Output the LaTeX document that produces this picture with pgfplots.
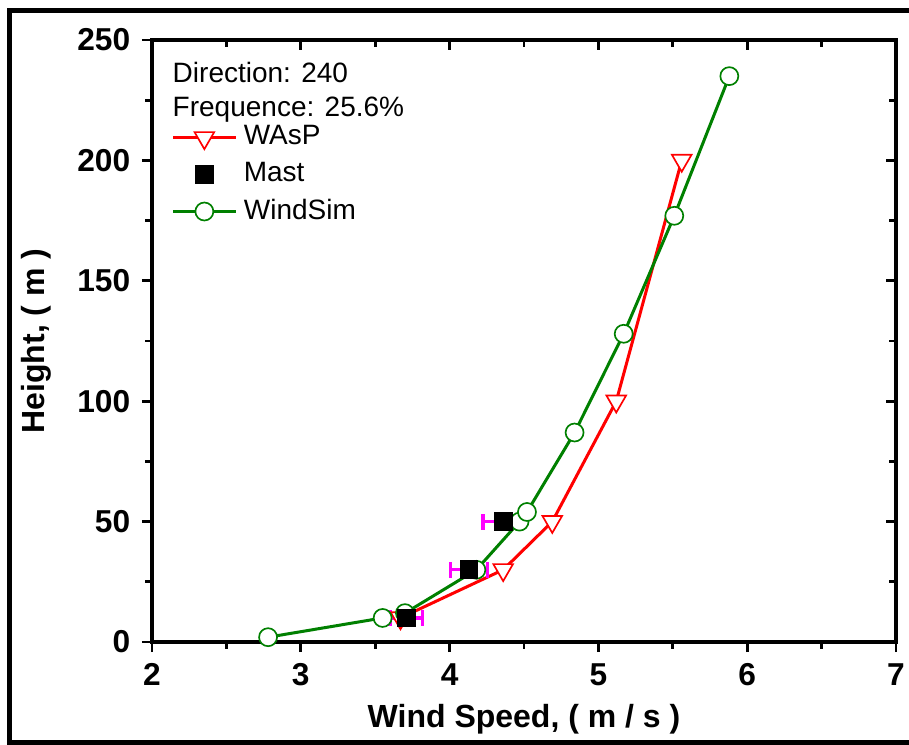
\documentclass[border=0pt]{standalone}
\usepackage{pgfplots}
\pgfplotsset{compat=1.18}
\usepackage{fontspec}
\setmainfont{Liberation Sans}
\definecolor{wgreen}{RGB}{0,128,0}
\definecolor{wred}{RGB}{255,0,0}
\definecolor{wmag}{RGB}{255,0,255}

\begin{document}
\begin{tikzpicture}
% mirrored inside ticks on top and right
\begin{axis}[
  scale only axis, width=223.2pt, height=180.6pt,
  xmin=2, xmax=7, ymin=0, ymax=250,
  xtick={2,...,7}, ytick={0,50,...,250},
  minor x tick num=1, minor y tick num=1,
  tick align=inside, xtick pos=top, ytick pos=right,
  xticklabels={}, yticklabels={},
  major tick length=3pt, minor tick length=2pt,
  axis line style={line width=1pt},
  every tick/.style={black, line width=0.8pt},
]
\end{axis}
\begin{axis}[
  scale only axis, width=223.2pt, height=180.6pt,
  xmin=2, xmax=7, ymin=0, ymax=250,
  xtick={2,...,7}, ytick={0,50,...,250},
  minor x tick num=1, minor y tick num=1,
  tick align=outside, xtick pos=bottom, ytick pos=left,
  major tick length=3pt, minor tick length=2pt,
  axis line style={line width=1pt},
  every tick/.style={black, line width=0.8pt},
  ticklabel style={font=\fontsize{9.5}{11}\selectfont\bfseries},
  /pgf/number format/assume math mode=true,
  xlabel={Wind Speed, ( m / s )},
  ylabel={Height, ( m )},
  label style={font=\fontsize{9.6}{11}\selectfont\bfseries},
  xlabel style={at={(axis description cs:0.5,-0.128)}, anchor=center},
  ylabel style={at={(axis description cs:-0.155,0.5)}, anchor=center},
  legend style={draw=none, fill=none, at={(rel axis cs:0.012,0.881)}, anchor=north west,
    font=\fontsize{8.4}{10}\selectfont, row sep=-0.3pt},
  legend cell align=left,
  legend image code/.code={\draw[mark repeat=2,mark phase=2] plot coordinates {(0cm,0cm)(0.33cm,0cm)(0.66cm,0cm)};},
]
\addplot[wred, line width=0.9pt, mark=triangle*, mark size=3.4pt,
  mark options={rotate=180, fill=white, draw=wred, line width=0.5pt}]
  coordinates {(3.67,10) (4.36,30) (4.69,50) (5.12,100) (5.56,200)};
\addlegendentry{WAsP}
\addlegendimage{black, only marks, mark=square*, mark size=2.6pt}
\addlegendentry{Mast}
\addplot[wgreen, line width=0.9pt, mark=*, mark size=2.7pt,
  mark options={fill=white, draw=wgreen, line width=0.5pt}]
  coordinates {(2.78,2) (3.55,10) (3.70,12) (4.18,30) (4.47,50) (4.52,54)
               (4.84,87) (5.17,128) (5.51,177) (5.88,235)};
\addlegendentry{WindSim}
\addplot[black, only marks, mark=square*, mark size=2.6pt, forget plot,
  error bars/.cd, x dir=both, x explicit, error mark=|,
  error bar style={wmag, line width=1pt},
  error mark options={wmag, mark size=2.4pt, line width=1pt}]
  coordinates {(3.71,10) +- (0.11,0) (4.13,30) +- (0.125,0) (4.36,50) +- (0.135,0)};
\node[anchor=north west, align=left, inner sep=0pt, font=\fontsize{8.4}{10.2}\selectfont]
  at (rel axis cs:0.027,0.965) {Direction: 240\\Frequence: 25.6\%};
\end{axis}
\draw[line width=1.5pt] (240pt,-30pt) -- (-42.6pt,-30pt) -- (-42.6pt,189.6pt) -- (240pt,189.6pt);
\pgfresetboundingbox
\useasboundingbox (-45.6pt,-30.6pt) rectangle (227.1pt,192.6pt);
\end{tikzpicture}
\end{document}
